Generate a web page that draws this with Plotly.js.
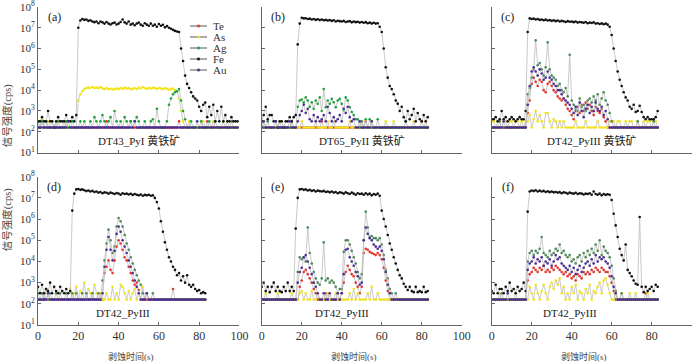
<!DOCTYPE html>
<html>
<head>
<meta charset="utf-8">
<script src="https://cdn.plot.ly/plotly-3.0.1.min.js"></script>
<style>
  html, body { margin: 0; padding: 0; background: #fff; }
  #chart { width: 700px; height: 362px; }
</style>
</head>
<body>
<div id="chart"></div>
<script>
// LA-ICP-MS time-resolved signals, values are log10(cps), one sweep per second

// ============================================
// DATA
// ============================================

const ELEMENTS = ['Te', 'As', 'Ag', 'Fe', 'Au'];

// (a) DT43_PyI
const teA = [
  2.2,2.2,2.5,2.2,2.2,2.2,2.2,2.2,2.2,2.2,
  2.2,2.2,2.2,2.2,2.2,2.2,2.2,2.2,2.2,2.2,
  2.2,2.2,2.2,2.2,2.2,2.2,2.2,2.2,2.2,2.2,
  2.2,2.2,2.2,2.2,2.5,2.2,2.2,2.2,2.2,2.2,
  2.2,2.2,2.2,2.2,2.2,2.2,2.5,2.2,2.2,2.2,
  2.2,2.2,2.2,2.2,2.2,2.2,2.2,2.2,2.2,2.2,
  2.2,2.2,2.2,2.2,2.2,2.2,2.2,2.2,2.2,2.2,
  2.5,2.2,2.2,2.2,2.2,2.2,2.2,2.2,2.2,2.2,
  2.2,2.2,2.2,2.2,2.5,2.2,2.2,2.2,2.2,2.2,
  2.2,2.2,2.2,2.2,2.2,2.2,2.2,2.2,2.2,2.2
];
const asA = [
  2.5,2.2,2.6,2.2,2.2,2.5,2.2,2.2,2.2,2.5,
  2.2,2.2,2.2,2.5,2.2,2.2,2.2,2.2,2.2,2.2,
  3.5,3.8,3.95,4.05,4.1,4.12,4.1,4.15,4.1,4.12,
  4.1,4.15,4.08,4.05,4.1,4.05,4.07,4.03,4.05,4.08,
  4.05,4.1,4.06,4.12,4.08,4.1,4.04,4.06,4.1,4.05,
  4.12,4.08,4.15,4.1,4.06,4.1,4.08,4.12,4.1,4.05,
  4.1,4.08,4.05,4.1,4.06,4.02,4.05,4.08,4.0,3.95,
  3.6,3.0,2.5,2.2,2.2,2.5,2.2,2.2,2.2,2.2,
  2.2,2.2,2.5,2.2,2.2,2.2,2.2,2.5,2.2,2.2,
  2.2,2.2,2.2,2.2,2.5,2.2,2.2,2.2,2.2,2.2
];
const agA = [
  2.5,2.2,2.5,2.2,2.5,2.2,2.2,2.5,2.2,2.2,
  2.5,2.2,2.2,2.2,2.5,2.2,2.2,2.5,2.2,2.2,
  2.2,2.5,2.2,2.5,2.2,2.2,2.5,2.2,2.7,2.5,
  2.2,2.5,2.8,2.5,2.2,2.5,2.7,2.2,3.0,2.5,
  2.2,2.5,2.2,2.7,2.5,2.2,2.5,2.2,2.5,2.7,
  2.5,2.2,2.2,2.5,2.2,2.2,2.5,2.6,2.2,3.1,
  2.5,2.2,2.2,2.2,2.5,3.3,3.6,3.8,3.9,3.95,
  4.05,3.5,3.0,2.6,2.2,2.2,2.5,2.2,2.2,2.2,
  2.2,2.5,2.2,2.2,2.2,2.5,2.2,2.2,2.5,2.2,
  2.2,2.2,2.5,2.2,2.2,2.2,2.5,2.2,2.2,2.2
];
const feA = [
  2.5,2.5,2.7,2.5,2.5,3.0,2.5,2.5,2.2,2.5,
  2.7,2.5,2.5,2.5,2.8,2.5,2.5,2.7,2.5,2.8,
  7.0,7.35,7.42,7.38,7.4,7.33,7.36,7.3,7.27,7.3,
  7.22,7.3,7.26,7.2,7.28,7.2,7.16,7.22,7.25,7.16,
  7.2,7.28,7.4,7.26,7.2,7.3,7.15,7.2,7.12,7.2,
  7.25,7.15,7.1,7.22,7.15,7.1,7.2,7.1,7.15,7.05,
  7.18,7.1,7.14,7.02,7.08,7.0,6.95,6.9,6.85,6.82,
  6.8,6.0,5.4,4.7,4.3,4.1,3.9,3.7,3.6,3.5,
  3.2,3.0,3.3,3.4,2.7,3.2,2.8,3.3,2.5,3.0,
  2.5,3.2,2.5,2.8,2.5,2.5,2.7,2.5,2.5,2.5
];
const auA = [
  2.2,2.2,2.2,2.2,2.2,2.2,2.2,2.2,2.2,2.2,
  2.2,2.2,2.2,2.2,2.2,2.5,2.2,2.2,2.2,2.2,
  2.2,2.2,2.2,2.2,2.2,2.2,2.2,2.2,2.2,2.2,
  2.2,2.2,2.2,2.2,2.2,2.2,2.2,2.2,2.2,2.2,
  2.2,2.2,2.2,2.2,2.2,2.2,2.2,2.2,2.5,2.2,
  2.2,2.2,2.2,2.2,2.2,2.2,2.2,2.2,2.2,2.2,
  2.2,2.2,2.2,2.2,2.2,2.2,2.2,2.2,2.2,2.2,
  2.2,2.2,2.2,2.2,2.2,2.2,2.2,2.2,2.2,2.5,
  2.2,2.2,2.2,2.2,2.2,2.2,2.2,2.2,2.2,2.2,
  2.2,2.2,2.2,2.2,2.2,2.2,2.2,2.2,2.2,2.2
];

// (b) DT65_PyII
const teB = [
  2.5,2.2,2.2,2.2,2.2,2.2,2.2,2.2,2.2,2.2,
  2.2,2.2,2.2,2.2,2.2,2.2,2.2,2.2,2.2,2.2,
  2.2,2.2,2.2,2.2,2.2,2.2,2.2,2.2,2.2,2.2,
  2.5,2.2,2.2,2.2,2.2,2.2,2.2,2.2,2.2,2.2,
  2.2,2.2,2.2,2.2,2.2,2.2,2.2,2.2,2.2,2.2,
  2.2,2.2,2.5,2.2,2.2,2.2,2.2,2.2,2.2,2.2,
  2.2,2.2,2.2,2.2,2.2,2.2,2.2,2.2,2.2,2.2,
  2.2,2.2,2.2,2.2,2.2,2.2,2.2,2.2,2.2,2.2,
  2.5,2.2,2.2,2.2
];
const asB = [
  2.2,2.5,2.2,2.2,2.2,2.2,2.2,2.2,2.2,2.5,
  2.2,2.2,2.2,2.2,2.2,2.5,2.2,2.2,2.2,2.2,
  2.5,2.2,2.2,2.2,2.2,2.2,2.2,2.5,2.2,2.2,
  2.2,2.2,2.2,2.5,2.2,2.2,2.5,2.2,2.2,2.2,
  2.2,2.2,2.2,2.2,2.5,2.2,2.2,2.2,2.2,2.2,
  2.5,2.2,2.2,2.2,2.2,2.5,2.2,2.2,2.2,2.2,
  2.2,2.2,2.5,2.2,2.2,2.2,2.5,2.2,2.2,2.2,
  2.2,2.2,2.2,2.2,2.2,2.2,2.5,2.2,2.2,2.2,
  2.2,2.2,2.5,2.2
];
const agB = [
  2.2,2.2,2.2,2.5,2.2,2.2,2.2,2.2,2.2,2.2,
  2.2,2.2,2.2,2.2,2.2,2.5,2.2,2.2,3.2,3.5,
  3.55,3.4,3.65,3.5,3.2,3.42,3.1,3.5,3.34,3.65,
  3.0,4.05,3.18,3.5,3.34,3.58,3.42,3.18,3.5,3.58,
  3.34,3.02,3.65,3.5,3.18,2.95,2.8,2.6,2.6,2.2,
  2.5,2.2,2.6,2.2,2.6,2.2,2.2,2.2,2.6,2.2,
  2.2,2.2,2.2,2.2,2.2,2.2,2.2,2.2,2.2,2.2,
  2.2,2.2,2.5,2.2,2.2,2.2,2.2,2.2,2.2,2.2,
  2.2,2.2,2.2,2.2
];
const feB = [
  2.5,2.8,3.2,2.6,2.8,2.8,2.5,2.5,2.2,2.5,
  2.5,2.2,2.5,2.5,2.7,2.5,2.7,2.8,6.2,7.2,
  7.48,7.45,7.46,7.42,7.44,7.4,7.42,7.38,7.41,7.37,
  7.4,7.36,7.38,7.35,7.37,7.33,7.36,7.3,7.34,7.32,
  7.3,7.33,7.28,7.3,7.32,7.26,7.3,7.27,7.29,7.25,
  7.28,7.24,7.27,7.22,7.25,7.2,7.24,7.2,7.22,7.05,
  6.8,6.0,5.1,4.6,4.2,4.05,3.8,3.5,3.35,3.0,
  3.2,2.7,2.5,3.0,2.6,2.8,3.1,2.5,2.9,2.6,
  2.5,2.8,2.5,2.7
];
const auB = [
  2.2,2.5,2.2,2.2,2.2,2.2,2.2,2.5,2.2,2.2,
  2.2,2.2,2.2,2.2,2.5,2.2,2.2,2.2,2.5,2.8,
  3.0,3.3,2.9,3.1,2.6,2.5,2.8,2.5,2.7,2.5,
  2.6,2.8,2.5,3.2,2.9,2.5,2.7,2.5,2.6,2.8,
  2.5,3.1,2.9,3.2,2.7,2.5,2.6,2.2,2.2,2.5,
  2.2,2.2,2.2,2.2,2.2,2.5,2.2,2.2,2.2,2.2,
  2.2,2.2,2.2,2.2,2.2,2.2,2.2,2.2,2.2,2.2,
  2.2,2.2,2.2,2.2,2.2,2.2,2.2,2.2,2.2,2.2,
  2.2,2.2,2.2,2.2
];

// (c) DT42_PyIII
const teC = [
  2.2,2.2,2.2,2.2,2.2,2.2,2.2,2.2,2.2,2.2,
  2.2,2.2,2.2,2.2,2.2,2.2,2.2,2.2,2.9,3.5,
  4.3,4.6,4.4,4.2,4.5,4.4,4.0,3.9,4.3,4.4,
  4.2,4.0,3.9,3.7,3.6,3.5,3.6,3.3,3.1,3.0,
  2.8,2.6,3.0,3.2,2.9,3.3,3.0,3.4,3.1,3.3,
  3.0,2.8,3.2,3.0,2.9,3.1,2.7,2.5,2.2,2.2,
  2.2,2.2,2.2,2.2,2.2,2.2,2.2,2.2,2.2,2.2,
  2.2,2.2,2.2,2.2,2.2,2.2,2.2,2.2,2.2,2.2,
  2.2,2.2,2.2,2.2
];
const asC = [
  2.5,2.5,2.2,2.5,2.5,2.2,2.5,2.5,2.2,2.5,
  2.5,2.2,2.5,2.5,2.2,2.5,2.2,2.5,2.5,2.8,
  2.2,2.6,3.0,2.5,2.8,2.5,2.2,2.9,2.9,2.5,
  2.2,2.6,2.5,2.2,2.5,2.2,2.5,2.2,2.2,2.2,
  2.2,2.2,2.5,2.2,2.2,2.2,2.2,2.5,2.2,2.2,
  2.2,2.2,2.2,2.5,2.2,2.2,2.2,2.2,2.2,2.5,
  2.5,2.5,2.2,2.5,2.5,2.2,2.2,2.5,2.2,2.5,
  2.5,2.2,2.2,2.5,2.2,2.2,2.5,2.2,2.5,2.5,
  2.2,2.5,2.5,2.2
];
const agC = [
  2.2,2.2,2.2,2.2,2.5,2.2,2.2,2.2,2.2,2.2,
  2.2,2.2,2.2,2.2,2.2,2.2,2.2,2.2,3.8,4.1,
  4.6,5.0,6.4,5.2,5.3,5.0,4.7,5.1,6.3,5.0,
  4.7,4.6,4.5,4.2,4.3,4.0,3.9,4.1,3.7,5.7,
  3.5,3.3,3.1,3.0,3.6,3.2,3.3,3.0,3.5,3.6,
  3.4,3.7,3.5,3.8,3.3,3.6,3.9,3.5,3.3,2.9,
  2.5,2.2,2.2,2.2,2.2,2.2,2.2,2.2,2.2,2.2,
  2.2,2.2,2.2,2.5,2.2,2.2,2.2,2.2,2.2,2.2,
  2.2,2.5,2.2,2.2
];
const feC = [
  2.6,2.6,2.7,2.5,2.6,3.0,2.6,2.7,2.5,2.6,
  2.7,2.6,2.5,2.6,2.7,2.6,2.6,3.0,6.8,7.45,
  7.42,7.44,7.4,7.42,7.38,7.4,7.36,7.39,7.35,7.37,
  7.33,7.36,7.32,7.35,7.3,7.33,7.31,7.28,7.32,7.29,
  7.3,7.27,7.3,7.25,7.28,7.26,7.24,7.28,7.22,7.25,
  7.23,7.26,7.2,7.22,7.18,7.21,7.17,7.2,7.15,7.05,
  6.65,6.0,5.4,4.9,4.5,4.2,3.9,3.65,3.5,3.2,
  3.1,3.3,2.95,3.0,3.25,2.95,2.7,2.6,2.7,2.6,
  2.6,2.6,2.7,3.0
];
const auC = [
  2.2,2.2,2.2,2.2,2.2,2.2,2.5,2.2,2.2,2.2,
  2.2,2.2,2.2,2.2,2.2,2.2,2.2,2.2,3.3,4.2,
  4.9,5.1,4.9,4.7,5.0,4.8,4.5,4.6,4.9,4.6,
  4.5,4.3,4.2,4.0,4.0,3.8,3.6,3.5,3.4,3.3,
  3.1,2.9,3.2,2.8,3.4,3.0,2.7,3.1,3.3,2.9,
  3.2,3.0,3.4,3.1,3.0,3.2,2.8,3.0,2.6,2.2,
  2.2,2.2,2.2,2.2,2.2,2.2,2.2,2.2,2.2,2.2,
  2.2,2.2,2.2,2.2,2.2,2.2,2.2,2.2,2.2,2.2,
  2.2,2.2,2.2,2.2
];

// (d) DT42_PyIII
const teD = [
  2.2,2.2,2.2,2.2,2.2,2.2,2.2,2.2,2.2,2.2,
  2.2,2.2,2.2,2.2,2.2,2.2,2.2,2.2,2.2,2.2,
  2.2,2.2,2.2,2.2,2.2,2.2,2.2,2.2,2.2,2.2,
  2.2,2.2,2.2,3.45,3.75,4.05,3.6,3.45,4.05,4.7,
  5.0,4.85,4.55,4.2,4.05,3.75,3.45,3.1,2.9,3.0,
  2.65,2.2,2.2,2.2,2.2,2.2,2.2,2.2,2.2,2.2,
  2.2,2.2,2.2,2.2,2.2,2.2,2.2,2.7,2.2,2.2,
  2.2,2.2,2.2,2.2,2.2,2.2,2.2,2.2,2.2,2.2,
  2.2,2.2,2.2,2.2
];
const asD = [
  2.2,2.2,2.2,2.5,2.2,2.2,2.2,2.2,2.2,2.2,
  2.2,2.2,2.2,2.2,2.2,2.5,2.7,2.2,2.5,2.8,
  2.2,2.6,2.5,3.0,2.2,2.7,2.5,2.2,2.9,2.5,
  2.2,2.5,2.2,2.2,2.5,2.2,2.2,2.8,2.2,2.5,
  2.2,2.9,2.8,2.5,2.2,2.6,2.2,2.5,2.7,2.2,
  2.5,2.2,2.8,2.2,2.5,2.2,2.2,2.2,2.2,2.2,
  2.2,2.2,2.2,2.2,2.2,2.2,2.2,2.2,2.2,2.2,
  2.2,2.2,2.2,2.2,2.2,2.2,2.2,2.2,2.2,2.2,
  2.2,2.2,2.2,2.2
];
const agD = [
  2.5,2.2,2.5,2.2,2.7,2.2,2.5,2.2,2.2,2.5,
  2.2,2.5,2.2,2.2,2.5,2.2,2.2,2.5,2.2,2.5,
  2.2,2.2,2.5,2.2,2.5,2.2,2.2,2.5,2.2,2.2,
  2.5,2.2,3.1,4.05,4.85,5.5,5.0,4.4,4.7,5.65,
  6.05,5.9,5.65,5.25,4.85,4.55,4.2,3.9,3.6,3.35,
  3.1,2.9,2.5,2.2,2.5,2.2,2.2,2.5,2.2,2.2,
  2.2,2.2,2.2,2.2,2.2,2.2,2.2,2.2,2.2,2.2,
  2.2,2.2,2.2,2.2,2.2,2.2,2.2,2.2,2.2,2.2,
  2.2,2.2,2.2,2.2
];
const feD = [
  2.8,2.5,2.9,2.5,2.7,2.6,3.0,2.5,2.8,2.6,
  2.5,2.8,2.6,2.5,2.7,2.5,2.6,6.4,7.2,7.4,
  7.42,7.38,7.4,7.36,7.32,7.35,7.3,7.33,7.28,7.3,
  7.25,7.28,7.22,7.26,7.24,7.2,7.25,7.22,7.18,7.23,
  7.2,7.15,7.22,7.18,7.2,7.16,7.19,7.14,7.18,7.15,
  7.12,7.16,7.1,7.14,7.12,7.15,7.1,7.12,7.0,6.8,
  6.5,5.9,5.4,4.9,4.55,4.2,4.0,3.75,3.6,3.35,
  3.45,3.1,3.3,3.0,3.35,2.9,2.8,2.9,2.7,2.6,
  2.65,2.5,2.55,2.5
];
const auD = [
  2.2,2.2,2.2,2.2,2.2,2.5,2.2,2.2,2.2,2.2,
  2.2,2.2,2.2,2.2,2.2,2.2,2.2,2.2,2.2,2.2,
  2.2,2.2,2.2,2.2,2.2,2.2,2.2,2.2,2.2,2.2,
  2.2,2.2,2.5,3.75,4.55,5.15,4.55,4.05,4.5,5.3,
  5.65,5.4,5.0,4.7,4.4,4.05,3.75,3.45,3.1,2.8,
  2.5,2.2,2.2,2.2,2.5,2.2,2.2,2.2,2.2,2.2,
  2.2,2.2,2.2,2.2,2.2,2.2,2.2,2.2,2.2,2.2,
  2.2,2.2,2.2,2.2,2.2,2.2,2.2,2.2,2.2,2.2,
  2.2,2.2,2.2,2.2
];

// (e) DT42_PyIII
const teE = [
  2.2,2.2,2.2,2.2,2.2,2.2,2.2,2.2,2.2,2.2,
  2.2,2.2,2.2,2.2,2.2,2.2,2.2,2.2,2.2,2.8,
  3.1,3.5,3.6,3.4,3.2,3.0,2.7,2.5,2.2,2.2,
  2.2,2.2,2.5,2.2,2.2,2.2,2.2,2.2,2.2,2.2,
  2.5,3.0,3.5,3.8,3.6,3.4,3.3,3.0,2.8,2.5,
  2.8,4.4,4.6,4.55,4.45,4.4,4.35,4.3,4.4,4.3,
  4.1,3.7,3.1,2.6,2.2,2.2,2.2,2.2,2.2,2.2,
  2.2,2.2,2.2,2.2,2.2,2.2,2.2,2.2,2.2,2.2,
  2.2,2.2,2.2,2.2
];
const asE = [
  2.2,2.2,2.5,2.2,2.2,2.2,2.2,2.2,2.5,2.2,
  2.2,2.2,2.2,2.2,2.2,2.5,2.2,2.2,2.2,2.5,
  2.6,2.2,2.5,2.2,2.2,2.6,2.2,2.2,2.5,2.2,
  2.2,2.2,2.2,2.5,2.2,2.2,2.2,2.5,2.2,2.2,
  2.2,2.2,2.2,2.2,2.5,2.2,2.7,2.2,2.5,2.2,
  2.2,2.2,2.2,2.5,2.2,2.8,2.2,2.2,2.5,2.2,
  2.2,2.2,2.2,2.2,2.2,2.2,2.2,2.2,2.2,2.2,
  2.2,2.2,2.2,2.2,2.2,2.2,2.2,2.2,2.2,2.2,
  2.2,2.2,2.2,2.2
];
const agE = [
  2.2,2.2,2.2,2.2,2.2,2.2,2.2,2.2,2.2,2.2,
  2.2,2.2,2.2,2.2,2.2,2.2,2.2,2.2,3.5,4.2,
  4.1,4.2,4.0,5.6,4.4,3.9,3.5,3.2,3.0,2.9,
  3.2,4.9,3.1,3.2,3.0,3.1,3.0,2.8,2.5,2.7,
  2.7,4.45,5.0,5.0,4.8,4.5,4.2,3.9,3.5,3.2,
  3.4,5.0,6.35,5.6,5.15,5.2,5.1,5.1,5.0,5.1,
  4.8,4.3,3.6,3.2,2.7,2.5,2.2,2.5,2.2,2.2,
  2.2,2.2,2.2,2.2,2.2,2.2,2.2,2.2,2.2,2.2,
  2.2,2.2,2.2,2.2
];
const feE = [
  2.8,3.0,2.6,2.8,2.55,2.8,3.0,2.6,2.8,2.6,
  2.55,2.8,2.6,3.0,2.6,2.8,2.6,5.55,7.0,7.4,
  7.42,7.38,7.4,7.35,7.38,7.33,7.36,7.3,7.34,7.32,
  7.3,7.33,7.28,7.3,7.26,7.3,7.25,7.28,7.22,7.26,
  7.24,7.2,7.26,7.22,7.18,7.25,7.2,7.15,7.22,7.18,
  7.2,7.15,7.22,7.16,7.2,7.12,7.18,7.15,7.2,7.1,
  6.4,6.0,5.65,5.25,4.85,4.55,4.2,3.9,3.6,3.35,
  3.2,2.95,2.8,2.65,2.8,2.6,2.55,2.8,2.55,2.6,
  2.55,2.8,2.55,2.6
];
const auE = [
  2.2,2.2,2.2,2.2,2.2,2.2,2.2,2.2,2.2,2.2,
  2.2,2.2,2.2,2.2,2.2,2.2,2.2,2.2,3.0,3.5,
  3.7,4.2,4.3,4.0,3.7,3.4,3.0,2.8,2.5,2.2,
  2.2,2.5,2.2,2.2,2.5,2.2,2.2,2.2,2.5,2.2,
  2.5,3.4,4.55,4.6,4.2,4.0,3.8,3.5,3.3,2.9,
  3.0,5.0,5.6,5.3,5.1,5.0,4.8,4.7,4.6,4.7,
  4.5,4.1,3.5,2.9,2.5,2.2,2.2,2.2,2.2,2.2,
  2.2,2.2,2.2,2.2,2.2,2.2,2.2,2.2,2.2,2.2,
  2.2,2.2,2.2,2.2
];

// (f) DT42_PyIII
const teF = [
  2.2,2.2,2.2,2.2,2.2,2.2,2.2,2.2,2.2,2.2,
  2.2,2.2,2.2,2.2,2.2,2.2,2.2,2.2,3.1,3.4,
  3.5,3.7,3.6,3.5,3.7,3.6,3.8,3.5,3.6,3.5,
  3.7,3.6,3.8,3.7,3.6,3.5,3.4,3.5,3.3,3.4,
  3.2,3.3,3.1,3.4,3.3,3.2,3.5,3.4,3.5,3.4,
  3.6,3.5,3.7,3.6,3.5,3.7,3.6,3.5,3.5,3.3,
  3.0,2.6,2.2,2.2,2.2,2.2,2.2,2.2,2.2,2.2,
  2.2,2.2,2.2,2.2,2.2,2.2,2.2,2.5,2.2,2.2,
  2.2,2.2,2.2,2.2
];
const asF = [
  2.2,2.2,2.2,2.2,2.5,2.2,2.2,2.2,2.2,2.2,
  2.2,2.2,2.5,2.2,2.2,2.2,2.2,2.2,2.2,2.8,
  2.5,2.2,2.9,2.5,2.2,2.6,2.9,2.5,2.2,2.8,
  3.0,2.7,3.1,2.9,3.2,2.5,2.8,2.2,2.5,2.2,
  2.8,2.5,2.9,2.2,2.6,2.5,2.2,2.7,2.5,2.9,
  2.2,2.6,2.5,2.8,3.0,2.5,3.1,3.2,2.9,2.5,
  2.2,2.2,2.5,2.2,2.2,2.5,2.2,2.2,2.2,2.5,
  2.2,2.2,2.5,2.2,2.2,2.2,2.2,2.2,2.5,2.2,
  2.2,2.2,2.2,2.2
];
const agF = [
  2.2,2.2,2.2,2.2,2.2,2.5,2.2,2.2,2.2,2.2,
  2.2,2.2,2.2,2.2,2.2,2.2,2.2,2.2,4.0,4.4,
  4.5,4.3,4.5,4.4,4.6,5.15,4.4,4.3,4.2,4.5,
  4.3,4.4,4.6,4.5,4.8,4.4,4.5,4.3,4.2,4.3,
  4.0,4.1,3.9,4.2,4.3,4.0,4.4,4.2,4.5,4.3,
  4.6,4.4,4.8,4.5,5.0,4.3,4.7,4.5,4.4,4.2,
  3.8,3.2,2.6,2.2,2.2,2.5,2.2,2.2,2.2,2.2,
  2.2,2.2,2.2,2.2,2.2,2.2,2.2,2.2,2.2,2.2,
  2.2,2.2,2.2,2.2
];
const feF = [
  2.6,2.5,2.9,2.5,2.7,2.7,2.5,2.8,2.6,3.0,
  2.6,2.7,2.5,2.8,2.6,2.7,3.0,2.6,6.35,7.3,
  7.35,7.32,7.36,7.3,7.34,7.3,7.33,7.28,7.31,7.27,
  7.3,7.26,7.28,7.25,7.27,7.22,7.26,7.24,7.2,7.25,
  7.22,7.2,7.24,7.18,7.22,7.2,7.16,7.2,7.18,7.22,
  7.15,7.3,7.18,7.15,7.2,7.12,7.18,7.14,7.17,7.15,
  6.9,6.25,5.7,5.15,4.6,4.3,4.05,4.8,3.6,3.45,
  3.3,3.1,2.95,2.9,6.1,2.8,2.55,2.8,2.6,2.7,
  2.8,2.6,2.9,2.8
];
const auF = [
  2.2,2.2,2.2,2.2,2.2,2.2,2.2,2.2,2.5,2.2,
  2.2,2.2,2.2,2.2,2.2,2.2,2.2,2.2,3.6,3.9,
  4.0,4.2,3.9,4.1,4.0,4.2,3.8,4.0,3.9,4.1,
  3.8,4.0,4.3,4.1,4.2,3.9,3.8,3.7,3.6,3.8,
  3.5,3.7,3.4,3.6,3.8,3.5,3.7,3.9,4.0,3.8,
  4.1,3.9,4.3,4.0,4.2,4.1,4.2,4.0,3.9,3.7,
  3.3,2.8,2.5,2.2,2.2,2.2,2.2,2.2,2.2,2.2,
  2.2,2.2,2.2,2.2,2.2,2.2,2.2,2.2,2.2,2.2,
  2.2,2.2,2.2,2.2
];

// ============================================
// STYLE
// ============================================

const SERIF = '"Liberation Serif", "Times New Roman", "Noto Sans CJK SC", serif';
const LINE_GREY = '#bdbdbd';
const AXIS_GREY = '#666';
const COLORS = { Te: '#e8352b', As: '#f2e41c', Ag: '#4e8a58', Fe: '#111111', Au: '#4a2c96' };
const AG_BRIGHT = '#1ea23c';

const panels = [
  { tag: '(a)', sample: 'DT43_PyI 黄铁矿', sampleX: 50, series: [teA, asA, agA, feA, auA], ag: AG_BRIGHT },
  { tag: '(b)', sample: 'DT65_PyII 黄铁矿', sampleX: 50, series: [teB, asB, agB, feB, auB], ag: AG_BRIGHT },
  { tag: '(c)', sample: 'DT42_PyIII 黄铁矿', sampleX: 50, series: [teC, asC, agC, feC, auC] },
  { tag: '(d)', sample: 'DT42_PyIII', sampleX: 42, series: [teD, asD, agD, feD, auD] },
  { tag: '(e)', sample: 'DT42_PyIII', sampleX: 40, series: [teE, asE, agE, feE, auE] },
  { tag: '(f)', sample: 'DT42_PyIII', sampleX: 39, series: [teF, asF, agF, feF, auF] }
];

// subplot boxes in paper fractions
const X_DOMAINS = [[0.0543, 0.3421], [0.3739, 0.6596], [0.7024, 0.9881]];
const Y_DOMAINS = [[0.5787, 0.9807], [0.1022, 0.5119]];

// ============================================
// BUILD
// ============================================

const W = 700, H = 362;
const traces = [];
const layout = {
  width: W,
  height: H,
  margin: { l: 0, r: 0, t: 0, b: 0 },
  paper_bgcolor: '#fff',
  plot_bgcolor: '#fff',
  font: { family: SERIF, size: 11, color: '#333' },
  showlegend: false,
  annotations: [],
  shapes: []
};

const yTickVals = [1, 2, 3, 4, 5, 6, 7, 8].map(p => Math.pow(10, p));
const yTickText = [1, 2, 3, 4, 5, 6, 7, 8].map(p => '10<sup>' + p + '</sup>');

panels.forEach((panel, i) => {
  const n = i + 1;
  const xId = n === 1 ? 'x' : 'x' + n;
  const yId = n === 1 ? 'y' : 'y' + n;
  const row = i < 3 ? 0 : 1;
  const col = i % 3;

  layout[n === 1 ? 'xaxis' : 'xaxis' + n] = {
    domain: X_DOMAINS[col], anchor: yId,
    range: [0, 100], tick0: 0, dtick: 20,
    ticks: 'inside', ticklen: 3, tickcolor: AXIS_GREY,
    showline: true, linecolor: AXIS_GREY, linewidth: 1,
    showgrid: false, zeroline: false,
    showticklabels: row === 1,
    tickfont: { family: SERIF, size: 12, color: '#333' }
  };
  layout[n === 1 ? 'yaxis' : 'yaxis' + n] = {
    domain: Y_DOMAINS[row], anchor: xId,
    type: 'log', range: [1, 8],
    tickvals: yTickVals, ticktext: yTickText,
    ticks: 'inside', ticklen: 3, tickcolor: AXIS_GREY,
    showline: true, linecolor: AXIS_GREY, linewidth: 1,
    showgrid: false, zeroline: false,
    showticklabels: col === 0,
    ticklabeloverflow: 'allow',
    tickfont: { family: SERIF, size: 11, color: '#333' }
  };

  panel.series.forEach((vals, j) => {
    const el = ELEMENTS[j];
    const color = el === 'Ag' && panel.ag ? panel.ag : COLORS[el];
    traces.push({
      x: vals.map((_, k) => k),
      y: vals.map(v => Math.pow(10, v)),
      xaxis: xId, yaxis: yId,
      type: 'scatter', mode: 'lines+markers',
      name: el,
      line: { color: LINE_GREY, width: 0.8 },
      marker: { color: color, size: 2.6 },
      hoverinfo: 'skip'
    });
  });

  // panel tag and sample name
  layout.annotations.push({
    xref: xId, yref: yId, x: 8, y: 7.52, text: panel.tag, showarrow: false,
    font: { family: SERIF, size: 12, color: '#222' }
  });
  layout.annotations.push({
    xref: xId, yref: yId, x: panel.sampleX, y: 1.58, text: panel.sample, showarrow: false,
    font: { family: SERIF, size: 11, color: '#222' }
  });

  if (col === 0) {
    const yd = Y_DOMAINS[row];
    layout.annotations.push({
      xref: 'paper', yref: 'paper', x: 7 / W, xanchor: 'center', y: (yd[0] + yd[1]) / 2 - 0.008,
      text: '信号强度(cps)', textangle: -90, showarrow: false,
      font: { family: SERIF, size: 10.5, color: '#444' }
    });
  }
  if (row === 1) {
    layout.annotations.push({
      xref: xId, yref: 'paper', x: 46, y: 1 - 356 / H, yanchor: 'middle',
      text: '剥蚀时间(s)', showarrow: false,
      font: { family: SERIF, size: 9, color: '#444' }
    });
  }
});

// legend box inside panel (a): short grey line, small coloured marker, label
ELEMENTS.forEach((el, k) => {
  const py = 26 + 11 * k;
  const yp = 1 - py / H;
  const color = el === 'Ag' ? AG_BRIGHT : COLORS[el];
  layout.shapes.push({
    type: 'line', xref: 'paper', yref: 'paper',
    x0: 190 / W, x1: 207 / W, y0: yp, y1: yp,
    line: { color: '#555', width: 1 }
  });
  layout.shapes.push({
    type: 'rect', xref: 'paper', yref: 'paper',
    xsizemode: 'pixel', ysizemode: 'pixel', xanchor: 198.5 / W, yanchor: yp,
    x0: -1.3, x1: 1.3, y0: -1.3, y1: 1.3,
    fillcolor: color, line: { width: 0 }
  });
  layout.annotations.push({
    xref: 'paper', yref: 'paper', x: 211 / W, y: yp, xanchor: 'left', yanchor: 'middle',
    text: el, showarrow: false,
    font: { family: SERIF, size: 11, color: '#333' }
  });
});

Plotly.newPlot('chart', traces, layout, { displayModeBar: false, staticPlot: true });
</script>
</body>
</html>
